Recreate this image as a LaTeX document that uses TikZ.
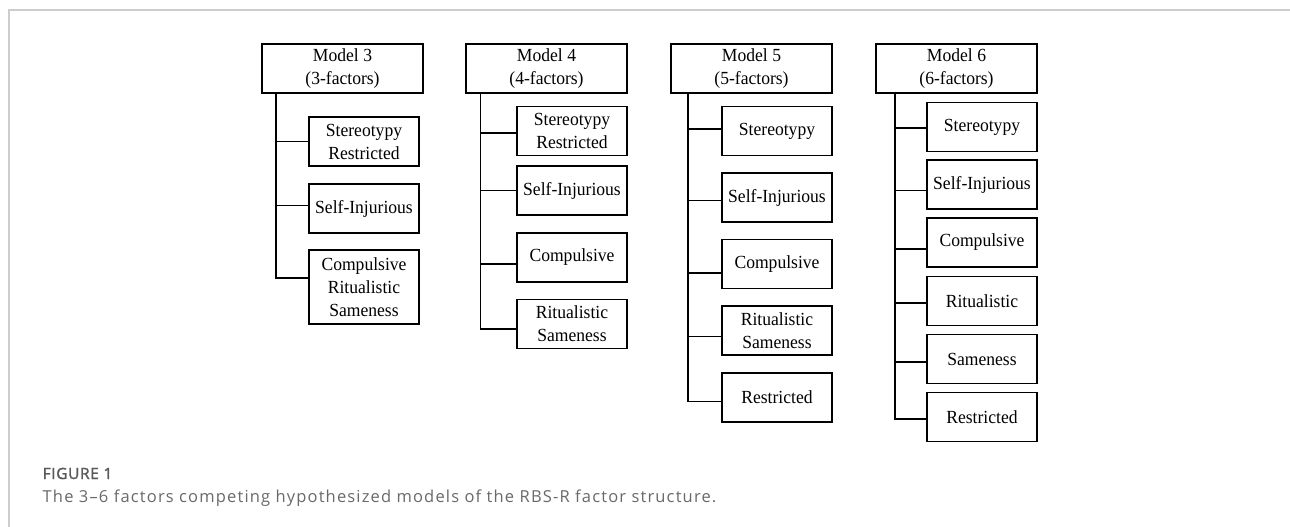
\documentclass[tikz,border=0pt]{standalone}
\usepackage{fontspec}
\setmainfont{Liberation Serif}[FakeStretch=0.95]
\newfontfamily\capfont{Open Sans}[LetterSpace=7]
\newfontfamily\labelfont{Open Sans}[FakeBold=1.6, LetterSpace=4]
\usetikzlibrary{positioning}
\definecolor{framegray}{RGB}{205,205,205}
\definecolor{capgray}{RGB}{105,105,105}
\tikzset{
  model/.style={draw, line width=1.2pt, minimum width=161pt, minimum height=49pt,
    inner sep=0pt, align=center, font=\fontsize{18.5}{23}\selectfont},
  factor/.style={model, minimum width=110pt},
  branch/.style={line width=1.3pt}
}

\begin{document}
\begin{tikzpicture}[x=1pt,y=-1pt]
  \useasboundingbox (0,0) rectangle (1290,527);
  \draw[framegray, line width=1.5pt] (9,527) -- (9,10) -- (1290,10); % frame

  % model 3
  \node[model] (m3) at (342.5,68.5) {Model 3\\(3-factors)};
  \node[factor] (m3a) at (364,141.5) {Stereotypy\\Restricted};
  \node[factor] (m3b) at (364,208.5) {Self-Injurious};
  \node[factor, minimum height=74pt] (m3c) at (364,287) {Compulsive\\Ritualistic\\Sameness};
  \draw[branch] ([xshift=14.5pt]m3.south west) |- (m3a.west);
  \draw[branch] ([xshift=14.5pt]m3.south west) |- ([yshift=3pt]m3b.west);
  \draw[branch] ([xshift=14.5pt]m3.south west) |- ([yshift=9pt]m3c.west);

  % model 4
  \node[model] (m4) at (546.5,68.5) {Model 4\\(4-factors)};
  \node[factor] (m4a) at (572,131) {Stereotypy\\Restricted};
  \node[factor] (m4b) at (572,190.5) {Self-Injurious};
  \node[factor] (m4c) at (572,257.5) {Compulsive};
  \node[factor] (m4d) at (572,324) {Ritualistic\\Sameness};
  \draw[branch] ([xshift=15pt]m4.south west) |- ([yshift=-2pt]m4a.west);
  \draw[branch] ([xshift=15pt]m4.south west) |- (m4b.west);
  \draw[branch] ([xshift=15pt]m4.south west) |- ([yshift=-6.5pt]m4c.west);
  \draw[branch] ([xshift=15pt]m4.south west) |- ([yshift=-5pt]m4d.west);

  % model 5
  \node[model] (m5) at (751.5,68.5) {Model 5\\(5-factors)};
  \node[factor] (m5a) at (777,131) {Stereotypy};
  \node[factor] (m5b) at (777,197.5) {Self-Injurious};
  \node[factor] (m5c) at (777,264) {Compulsive};
  \node[factor] (m5d) at (777,330.5) {Ritualistic\\Sameness};
  \node[factor] (m5e) at (777,397.5) {Restricted};
  \draw[branch] ([xshift=17.5pt]m5.south west) |- ([yshift=2pt]m5a.west);
  \draw[branch] ([xshift=17.5pt]m5.south west) |- ([yshift=-3pt]m5b.west);
  \draw[branch] ([xshift=17.5pt]m5.south west) |- ([yshift=-9pt]m5c.west);
  \draw[branch] ([xshift=17.5pt]m5.south west) |- ([yshift=-6pt]m5d.west);
  \draw[branch] ([xshift=17.5pt]m5.south west) |- ([yshift=-4pt]m5e.west);

  % model 6
  \node[model] (m6) at (956.5,68.5) {Model 6\\(6-factors)};
  \node[factor] (m6a) at (982,127) {Stereotypy};
  \node[factor] (m6b) at (982,184.5) {Self-Injurious};
  \node[factor] (m6c) at (982,242.5) {Compulsive};
  \node[factor] (m6d) at (982,301) {Ritualistic};
  \node[factor] (m6e) at (982,359) {Sameness};
  \node[factor] (m6f) at (982,417) {Restricted};
  \draw[branch] ([xshift=19.5pt]m6.south west) |- ([yshift=-1pt]m6a.west);
  \draw[branch] ([xshift=19.5pt]m6.south west) |- ([yshift=-6pt]m6b.west);
  \draw[branch] ([xshift=19.5pt]m6.south west) |- ([yshift=-6.5pt]m6c.west);
  \draw[branch] ([xshift=19.5pt]m6.south west) |- ([yshift=-2pt]m6d.west);
  \draw[branch] ([xshift=19.5pt]m6.south west) |- ([yshift=-3pt]m6e.west);
  \draw[branch] ([xshift=19.5pt]m6.south west) |- ([yshift=-2pt]m6f.west);

  % caption
  \node[anchor=base west, inner sep=0pt, text=capgray!85!black,
    font=\labelfont\fontsize{15.5}{17}\selectfont] (figlabel) at (42.5,479) {FIGURE 1};
  \node[anchor=base west, inner sep=0pt, text=capgray,
    font=\capfont\fontsize{16.5}{18}\selectfont] (caption) at (42.5,502)
    {The 3–6 factors competing hypothesized models of the RBS-R factor structure.};
\end{tikzpicture}
\end{document}
